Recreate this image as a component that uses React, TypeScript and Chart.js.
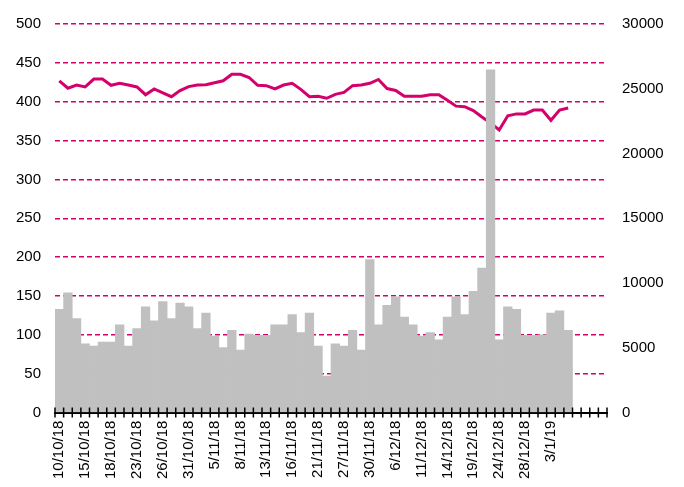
import React, { useEffect, useRef } from "react";
import { Chart, registerables } from "chart.js";
Chart.register(...registerables);

const dates = [
  "10/10/18", "11/10/18", "12/10/18", "15/10/18", "16/10/18", "17/10/18", "18/10/18", "19/10/18",
  "22/10/18", "23/10/18", "24/10/18", "25/10/18", "26/10/18", "29/10/18", "30/10/18", "31/10/18",
  "1/11/18", "2/11/18", "5/11/18", "6/11/18", "7/11/18", "8/11/18", "9/11/18", "12/11/18",
  "13/11/18", "14/11/18", "15/11/18", "16/11/18", "19/11/18", "20/11/18", "21/11/18", "23/11/18",
  "26/11/18", "27/11/18", "28/11/18", "29/11/18", "30/11/18", "3/12/18", "4/12/18", "6/12/18",
  "7/12/18", "10/12/18", "11/12/18", "12/12/18", "13/12/18", "14/12/18", "17/12/18", "18/12/18",
  "19/12/18", "20/12/18", "21/12/18", "24/12/18", "26/12/18", "27/12/18", "28/12/18", "31/12/18",
  "2/1/19", "3/1/19", "4/1/19", "7/1/19",
];
const emptySlots = 4;
const labelEvery = 3;

// bars, left axis
const volume = [
  133, 154, 121, 88.6, 85.6, 90.6, 90.6, 113, 85.6, 108,
  136, 118, 143, 121, 141, 136, 108, 128, 98.5, 83.6,
  106, 80.6, 101, 99.5, 99.5, 113, 113, 126, 103, 128,
  85.6, 46.9, 88.6, 85.6, 106, 80.6, 197, 113, 138, 149,
  123, 113, 98.5, 103, 93.5, 123, 149, 126, 156, 186,
  441, 93.5, 136, 133, 99.5, 99.5, 100, 128, 131, 106,
];

// line, right axis
const indexLevel = [
  25615, 25045, 25290, 25140, 25745, 25745, 25270, 25420, 25290, 25140,
  24540, 24990, 24690, 24390, 24865, 25165, 25290, 25315, 25465, 25615,
  26120, 26120, 25870, 25270, 25240, 24990, 25290, 25420, 24955, 24390,
  24415, 24265, 24565, 24715, 25240, 25290, 25420, 25720, 25015, 24865,
  24415, 24415, 24415, 24540, 24540, 24110, 23660, 23615, 23315, 22815,
  22360, 21815, 22910, 23060, 23060, 23360, 23360, 22565, 23360, 23510,
];

const leftMax = 500;
const leftStep = 50;
const rightMax = 30000;
const rightStep = 5000;

const FONT = "'Liberation Sans', Arial, sans-serif";
const MAGENTA = "#d4006c";

const tickMarks = {
  id: "tickMarks",
  afterDraw(chart: any) {
    const { ctx, chartArea } = chart;
    const n = chart.data.labels.length;
    const step = (chartArea.right - chartArea.left) / n;
    const y0 = chartArea.bottom;
    ctx.save();
    ctx.strokeStyle = "#000";
    ctx.lineWidth = 1.5;
    ctx.beginPath();
    for (let i = 0; i <= n; i++) {
      const px = chartArea.left + i * step;
      ctx.moveTo(px, y0 - 5);
      ctx.lineTo(px, y0 + 5);
    }
    ctx.stroke();
    ctx.restore();
  },
};

export default function App() {
  const ref = useRef<HTMLCanvasElement | null>(null);
  useEffect(() => {
    if (!ref.current) return;
    const labels = [...dates, ...Array(emptySlots).fill("")];
    const chart = new Chart(ref.current, {
      type: "bar",
      data: {
        labels,
        datasets: [
          {
            type: "bar",
            data: volume,
            yAxisID: "y",
            backgroundColor: "#c0c0c0",
            borderWidth: 0,
            barPercentage: 1,
            categoryPercentage: 1,
            order: 0,
          } as any,
          {
            type: "line",
            data: indexLevel,
            yAxisID: "y1",
            borderColor: MAGENTA,
            borderWidth: 3,
            pointRadius: 0,
            tension: 0,
            fill: false,
            order: 1,
          } as any,
        ],
      },
      options: {
        animation: false,
        responsive: true,
        maintainAspectRatio: false,
        layout: { padding: { top: 13.6, left: 0, right: 0, bottom: 0 } },
        plugins: { legend: { display: false }, tooltip: { enabled: false } },
        scales: {
          x: {
            offset: true,
            grid: { display: false, drawTicks: false },
            border: { display: true, color: "#000", width: 2 },
            ticks: {
              autoSkip: false,
              maxRotation: 90,
              minRotation: 90,
              padding: 8,
              color: "#000",
              font: { family: FONT, size: 15 },
              callback: (_v: any, i: number) => (i % labelEvery === 0 ? labels[i] : ""),
            },
            afterFit: (s: any) => {
              s.height = 74.4;
            },
          },
          y: {
            position: "left",
            min: 0,
            max: leftMax,
            grid: {
              drawTicks: false,
              color: (c: any) => (c.tick && c.tick.value === 0 ? "rgba(0,0,0,0)" : MAGENTA),
              lineWidth: 1.5,
            },
            border: { display: false, dash: [5, 3] },
            ticks: {
              stepSize: leftStep,
              padding: 14,
              color: "#000",
              font: { family: FONT, size: 15 },
              callback: (v: any) => String(v),
            },
            afterFit: (s: any) => {
              s.width = 55;
            },
          },
          y1: {
            position: "right",
            min: 0,
            max: rightMax,
            grid: { display: false, drawTicks: false },
            border: { display: false },
            ticks: {
              stepSize: rightStep,
              padding: 15,
              color: "#000",
              font: { family: FONT, size: 15 },
              callback: (v: any) => String(v),
            },
            afterFit: (s: any) => {
              s.width = 77;
            },
          },
        },
      },
      plugins: [tickMarks],
    });
    return () => chart.destroy();
  }, []);
  return (
    <div style={{ position: "fixed", left: 0, top: 0, width: 684, height: 487, background: "#fff" }}>
      <canvas ref={ref} />
    </div>
  );
}
